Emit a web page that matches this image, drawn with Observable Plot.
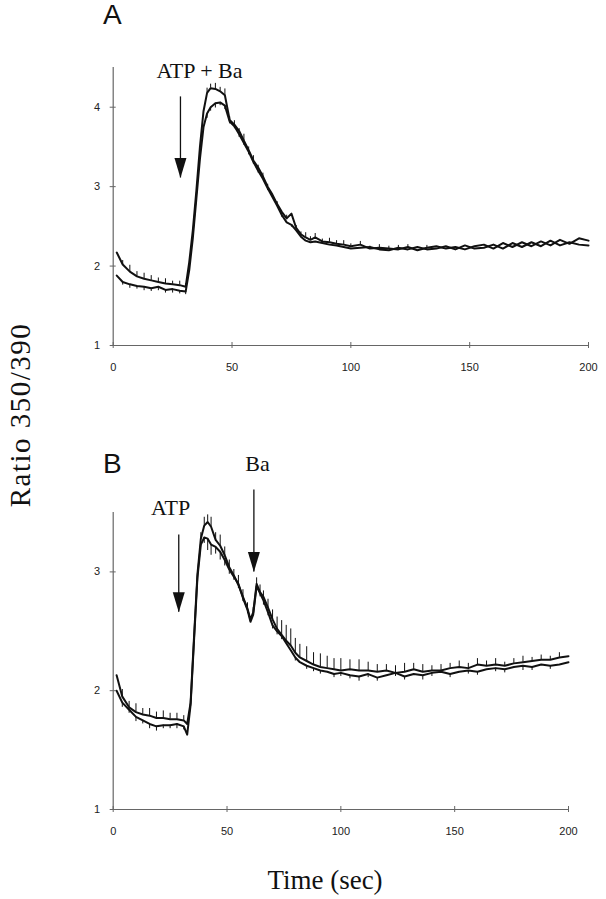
<!DOCTYPE html>
<html>
<head>
<meta charset="utf-8">
<script src="https://cdn.jsdelivr.net/npm/d3@7"></script>
<script src="https://cdn.jsdelivr.net/npm/@observablehq/plot@0.6"></script>
<style>
  html, body { margin: 0; padding: 0; background: #fff; }
  #page { position: relative; width: 606px; height: 899px; overflow: hidden; background: #fff; }
  .panel { position: absolute; left: 0; z-index: 1; }
  .letter { position: absolute; z-index: 2; font-family: "Liberation Sans", Arial, sans-serif; font-size: 28px; line-height: 1; color: #111; }
  .ttl { position: absolute; z-index: 2; font-family: "Liberation Serif", "Times New Roman", serif; color: #111; line-height: 1; white-space: nowrap; }
</style>
</head>
<body>
<div id="page">
  <div id="panelA" class="panel" style="top:0px;"></div>
  <div id="panelB" class="panel" style="top:420px;"></div>
  <div class="letter" style="left:103px; top:1px;">A</div>
  <div class="letter" style="left:103px; top:450px;">B</div>
  <div class="ttl" style="left:-90px; top:400px; width:220px; height:30px; line-height:30px; text-align:center; font-size:29px; letter-spacing:1.5px; transform:rotate(-90deg);">Ratio 350/390</div>
  <div class="ttl" style="left:225px; top:867px; width:200px; text-align:center; font-size:27px;">Time (sec)</div>
</div>
<script>
// ---------- Panel A data ----------
const tA = [1.5,4,7,10,13,16,19,22,25,28,30.5,32,33.5,35,36.5,38,39.5,41,43,45,47,49,51,53,55,57,59,61,63,65,67,69,71,73,75,77,79,81,83,85,88,91,94,97,100,104,108,112,116,120,124,128,132,136,140,144,148,152,156,160,164,168,172,176,180,184,188,192,196,200];
const a1 = [2.17,2.02,1.93,1.87,1.84,1.82,1.80,1.78,1.77,1.76,1.74,2.05,2.45,2.95,3.5,3.95,4.18,4.24,4.23,4.2,4.15,3.84,3.78,3.7,3.58,3.46,3.33,3.24,3.13,3.0,2.9,2.78,2.68,2.6,2.66,2.48,2.4,2.36,2.33,2.36,2.31,2.3,2.28,2.27,2.25,2.27,2.22,2.23,2.22,2.21,2.24,2.2,2.23,2.25,2.22,2.24,2.21,2.25,2.27,2.22,2.29,2.24,2.3,2.25,2.31,2.26,2.33,2.28,2.35,2.32];
const a2 = [1.88,1.8,1.77,1.75,1.74,1.72,1.74,1.7,1.71,1.69,1.68,1.95,2.35,2.85,3.35,3.75,3.92,4.0,4.05,4.06,4.02,3.82,3.76,3.66,3.55,3.44,3.31,3.2,3.1,2.98,2.87,2.76,2.64,2.55,2.52,2.45,2.37,2.32,2.3,2.31,2.29,2.27,2.26,2.24,2.22,2.23,2.24,2.21,2.2,2.23,2.21,2.24,2.21,2.22,2.25,2.21,2.26,2.22,2.23,2.27,2.22,2.29,2.24,2.3,2.25,2.32,2.26,2.3,2.27,2.26];
const eA1 = [0,0.05,0.08,0.06,0.07,0.06,0.05,0.06,0.04,0.05,0.04,0,0,0,0,0,0.06,0.05,0.07,0.05,0.08,0.04,0.05,0.03,0.08,0.04,0.06,0.03,0.04,0.03,0,0.03,0,0.04,0,0.03,0.03,0.06,0.04,0.05,0.03,0.05,0.04,0.05,0.03,0.04,0.03,0.04,0.03,0.05,0.03,0,0.03,0,0,0,0,0,0,0,0,0,0,0,0,0,0,0,0,0];
const eA2 = [0,0.04,0.05,0.04,0.05,0.04,0.05,0.04,0.05,0.04,0.04,0,0,0,0,0,0.06,0.05,0.06,0.04,0.05,0.03,0.03,0.04,0.03,0.04,0.03,0.03,0,0.03,0,0,0.03,0,0.03,0,0,0,0,0,0,0,0,0,0,0,0,0,0,0,0,0,0,0,0,0,0,0,0,0,0,0,0,0,0,0,0,0,0,0];

// ---------- Panel B data ----------
const tB = [1.5,4,7,10,13,16,19,22,25,28,31,32.5,34,35.5,37,38.5,40,41.5,43,45,47,49,51,53,55,57,59,60.3,61.5,63,64.5,66,68,70,72,74,76,78,80,82,85,88,91,94,97,100,104,108,112,116,120,124,128,132,136,140,144,148,152,156,160,164,168,172,176,180,184,188,192,196,200];
const b1 = [2.13,1.95,1.86,1.82,1.8,1.79,1.77,1.77,1.76,1.76,1.75,1.72,1.9,2.45,2.98,3.28,3.39,3.42,3.38,3.27,3.22,3.14,3.04,2.97,2.89,2.79,2.69,2.6,2.66,2.9,2.83,2.79,2.7,2.6,2.52,2.47,2.42,2.38,2.32,2.28,2.25,2.22,2.2,2.19,2.18,2.17,2.18,2.17,2.17,2.16,2.17,2.15,2.16,2.18,2.16,2.17,2.17,2.19,2.2,2.19,2.22,2.21,2.22,2.21,2.23,2.24,2.25,2.26,2.26,2.28,2.29];
const b2 = [2.0,1.9,1.84,1.78,1.75,1.72,1.7,1.71,1.71,1.72,1.7,1.63,1.88,2.42,2.95,3.23,3.29,3.28,3.23,3.21,3.17,3.1,3.02,2.96,2.9,2.78,2.68,2.58,2.64,2.88,2.82,2.76,2.66,2.55,2.5,2.46,2.4,2.34,2.28,2.24,2.21,2.19,2.17,2.16,2.14,2.15,2.13,2.12,2.14,2.11,2.13,2.15,2.12,2.14,2.13,2.15,2.16,2.14,2.16,2.17,2.16,2.18,2.19,2.18,2.2,2.21,2.2,2.22,2.21,2.22,2.24];
const eB1 = [0,0.06,0.05,0.07,0.05,0.06,0.05,0.06,0.05,0.05,0.04,0,0,0,0,0.05,0.07,0.06,0.08,0.06,0.09,0.07,0.06,0.05,0.08,0.06,0.05,0,0.04,0.05,0.06,0.05,0.07,0.08,0.1,0.12,0.13,0.14,0.12,0.11,0.12,0.1,0.11,0.1,0.09,0.1,0.08,0.09,0.07,0.06,0.05,0.06,0.07,0.05,0.06,0.04,0.05,0.04,0.05,0.04,0.05,0.04,0.05,0.03,0.04,0.05,0.03,0.04,0.03,0.04,0];
const eB2 = [0,0.04,0.03,0.04,0.03,0.04,0.04,0.03,0.03,0.04,0.03,0,0,0,0,0,0.05,0.1,0.09,0.06,0.07,0.05,0.04,0.03,0.04,0.03,0.03,0,0,0.03,0.03,0.04,0.03,0.03,0.03,0.03,0,0,0.03,0,0.03,0.03,0.03,0,0.03,0.03,0.03,0.04,0.03,0.03,0,0.03,0.03,0,0.04,0.03,0,0.03,0,0.03,0.03,0,0.03,0.03,0,0.04,0.03,0,0.03,0,0];

// ---------- annotations and ticks ----------
const xTicks = [0, 50, 100, 150, 200];
const yTicksA = [1, 2, 3, 4];
const yTicksB = [1, 2, 3];
const labelsA = [{label: "ATP + Ba", t: 36.3, v: 4.46}];
const arrowsA = [{t: 28.3, top: 4.13, tip: 3.11}];
const labelsB = [{label: "ATP", t: 25.2, v: 3.54}, {label: "Ba", t: 63.4, v: 3.91}];
const arrowsB = [{t: 28.8, top: 3.31, tip: 2.66}, {t: 61.8, top: 3.69, tip: 3.0}];

function rows(t, v, e, s, dir) {
  return t.map((tt, i) => ({t: tt, v: v[i], e: e[i] * dir, s}));
}

// filled arrow head, anchored at its tip
const headSymbol = {
  draw(ctx) {
    ctx.moveTo(-6, -20);
    ctx.lineTo(6, -20);
    ctx.lineTo(0, 0);
    ctx.closePath();
  }
};

function panel({width, height, mt, mb, mr, ymax, yTicks, data, labels, arrows}) {
  const errs = data.filter(d => d.e !== 0);
  return Plot.plot({
    width, height,
    marginLeft: 112.7, marginRight: mr, marginTop: mt, marginBottom: mb,
    x: {domain: [0, 200]},
    y: {domain: [1, ymax]},
    style: {fontFamily: "'Liberation Sans', Arial, sans-serif", fontSize: "11px", background: "transparent", color: "#222"},
    marks: [
      Plot.ruleX([0], {y1: 1, y2: ymax, stroke: "#666", strokeWidth: 1.2}),
      Plot.ruleY([1], {x1: 0, x2: 200, stroke: "#666", strokeWidth: 1.2}),
      Plot.axisY(yTicks, {tickSize: 6, dx: 3, tickPadding: 10, stroke: "#666", fill: "#222", fontSize: 11, tickFormat: d => String(d), label: null}),
      Plot.axisX(xTicks, {tickSize: 6, dy: -3, tickPadding: 15, stroke: "#666", fill: "#222", fontSize: 11, tickFormat: d => String(d), label: null}),
      Plot.ruleX(errs, {x: "t", y1: "v", y2: d => d.v + d.e, stroke: "#111", strokeWidth: 1}),
      Plot.line(data, {x: "t", y: "v", z: "s", stroke: "#111", strokeWidth: 2, strokeLinejoin: "round"}),
      Plot.ruleX(arrows, {x: "t", y1: "top", y2: "tip", stroke: "#111", strokeWidth: 1.3}),
      Plot.dot(arrows, {x: "t", y: "tip", symbol: headSymbol, fill: "#111", stroke: null}),
      Plot.text(labels, {x: "t", y: "v", text: "label", fontFamily: "'Liberation Serif', 'Times New Roman', serif", fontSize: 22, fill: "#111"})
    ]
  });
}

const dataA = [...rows(tA, a1, eA1, "1", 1), ...rows(tA, a2, eA2, "2", -1)];
const dataB = [...rows(tB, b1, eB1, "1", 1), ...rows(tB, b2, eB2, "2", -1)];

document.getElementById("panelA").append(panel({
  width: 606, height: 390, mt: 67, mb: 45, mr: 18, ymax: 4.5, yTicks: yTicksA,
  data: dataA, labels: labelsA, arrows: arrowsA
}));
document.getElementById("panelB").append(panel({
  width: 606, height: 420, mt: 92, mb: 31, mr: 38, ymax: 3.5, yTicks: yTicksB,
  data: dataB, labels: labelsB, arrows: arrowsB
}));
</script>
</body>
</html>
